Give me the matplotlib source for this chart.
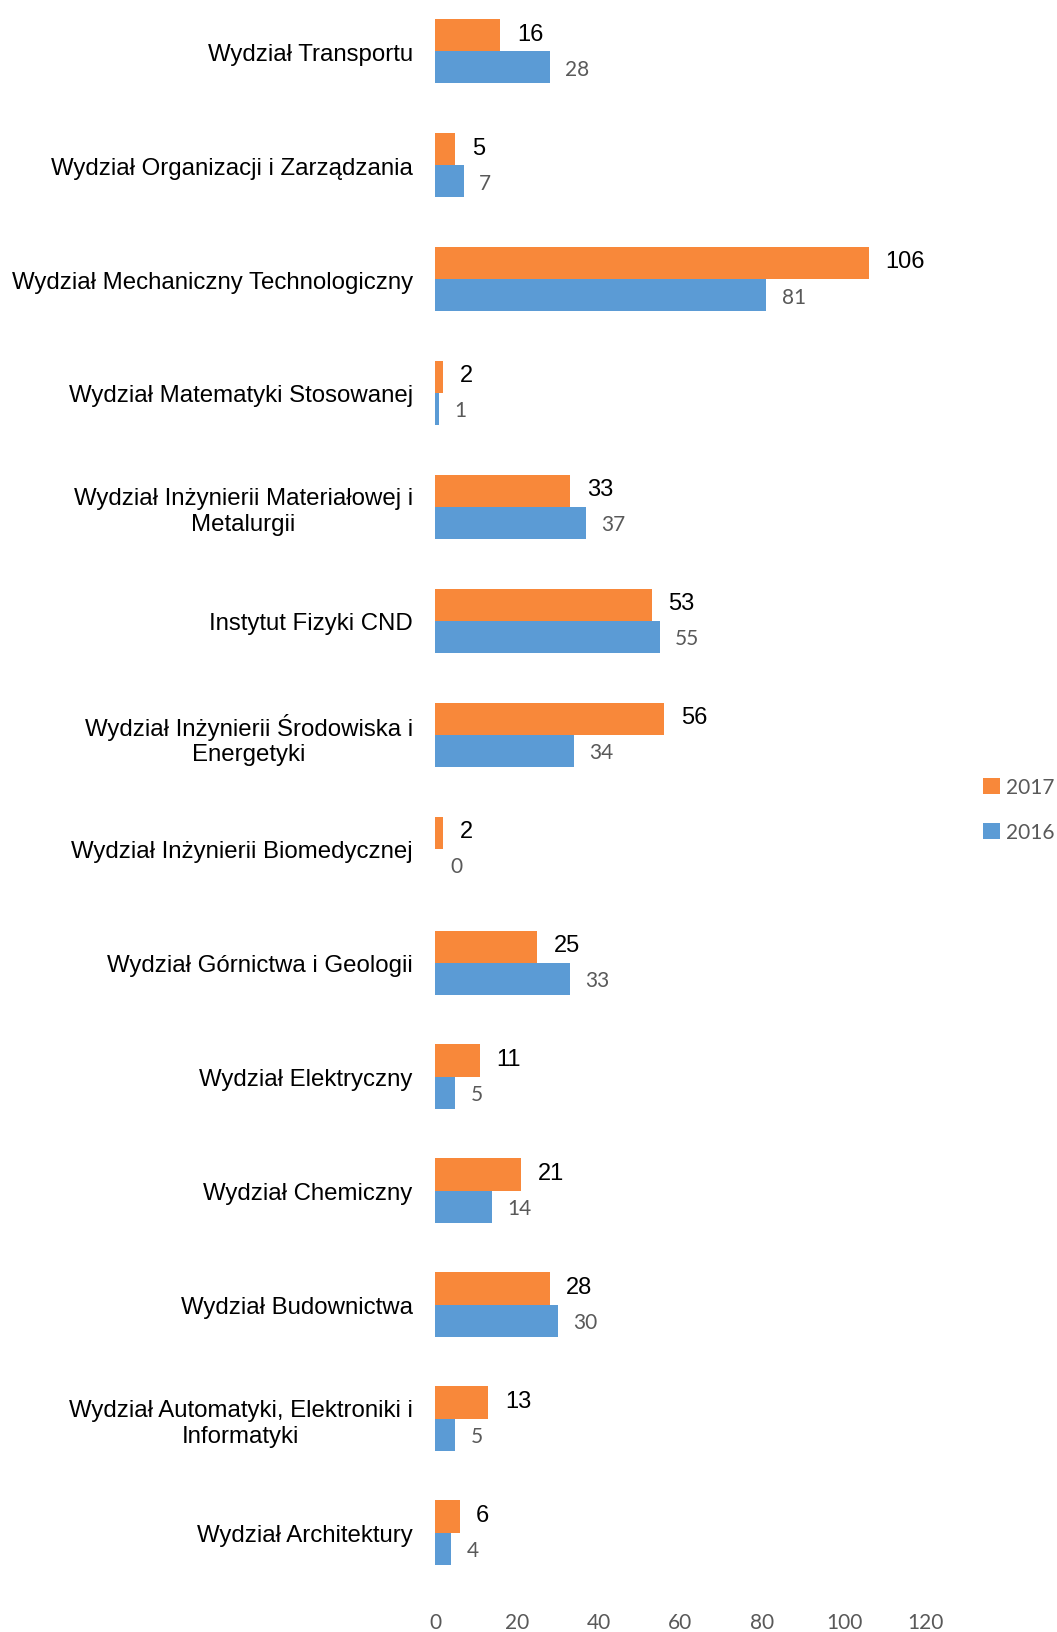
import numpy as np
import matplotlib.pyplot as plt

faculties = [
    "Wydział Transportu",
    "Wydział Organizacji i Zarządzania",
    "Wydział Mechaniczny Technologiczny",
    "Wydział Matematyki Stosowanej",
    "Wydział Inżynierii Materiałowej i\nMetalurgii",
    "Instytut Fizyki CND",
    "Wydział Inżynierii Środowiska i\nEnergetyki",
    "Wydział Inżynierii Biomedycznej",
    "Wydział Górnictwa i Geologii",
    "Wydział Elektryczny",
    "Wydział Chemiczny",
    "Wydział Budownictwa",
    "Wydział Automatyki, Elektroniki i\nInformatyki",
    "Wydział Architektury",
]
v2017 = [16, 5, 106, 2, 33, 53, 56, 2, 25, 11, 21, 28, 13, 6]
v2016 = [28, 7, 81, 1, 37, 55, 34, 0, 33, 5, 14, 30, 5, 4]

orange = "#F8883A"
blue = "#5B9BD5"
grey = "#595959"

fig = plt.figure(figsize=(10.57, 16.33), dpi=100)
ax = fig.add_axes([0.4115, 0.026, 0.4645, 0.977])

y = np.arange(len(faculties))
h = 0.283
b1 = ax.barh(y - h / 2, v2017, height=h, color=orange, label="2017")
b2 = ax.barh(y + h / 2, v2016, height=h, color=blue, label="2016")

# value labels: 2017 black, 2016 grey
for rect, v in zip(b1, v2017):
    ax.annotate(str(v), (rect.get_width(), rect.get_y() + rect.get_height() / 2),
                xytext=(12, 1), textcoords="offset points", va="center", ha="left",
                fontsize=17, color="black", family="Liberation Sans")
for rect, v in zip(b2, v2016):
    ax.annotate(str(v), (rect.get_width(), rect.get_y() + rect.get_height() / 2),
                xytext=(11, -1), textcoords="offset points", va="center", ha="left",
                fontsize=15, color=grey, family="Lato")

ax.set_xlim(0, 120)
ax.set_ylim(len(faculties) - 0.5, -0.5)
ax.set_xticks(np.arange(0, 121, 20))
ax.set_xticklabels([str(t) for t in range(0, 121, 20)], fontsize=15, color=grey, family="Lato")
ax.set_yticks(y)
ax.set_yticklabels(faculties, fontsize=17.3, color="black", family="Liberation Sans",
                   multialignment="center")
ax.tick_params(axis="y", length=0, pad=16)
ax.tick_params(axis="x", length=0, pad=16)
for s in ax.spines.values():
    s.set_visible(False)

ax.legend(handles=[b1, b2], labels=["2017", "2016"], loc="center left",
          bbox_to_anchor=(1.078, 0.489), frameon=False, handlelength=0.8,
          handleheight=0.8, handletextpad=0.3, labelspacing=1.2,
          prop={"family": "Lato", "size": 15}, labelcolor=grey)

fig.savefig("out.png", dpi=100)
